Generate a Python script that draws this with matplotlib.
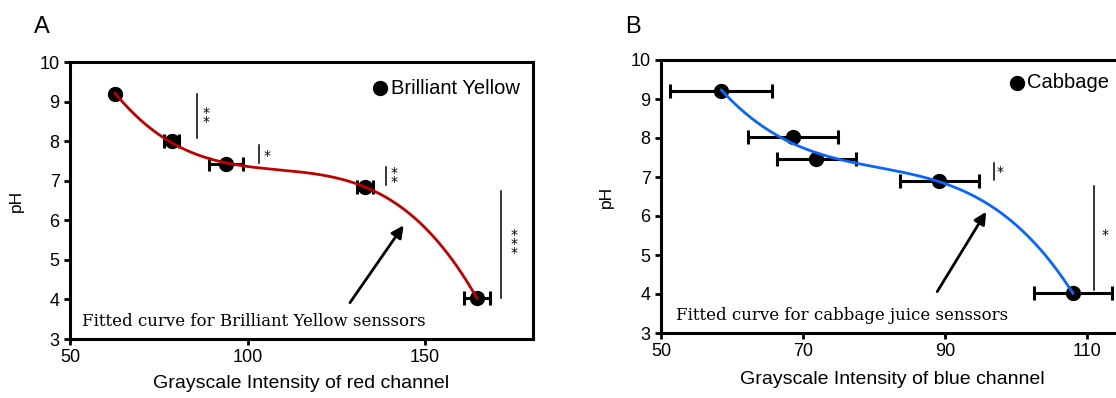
import numpy as np
import matplotlib.pyplot as plt

plt.rcParams['font.family'] = ['Liberation Sans', 'DejaVu Sans']

# panel A - brilliant yellow, red channel
red_x = [62.7, 78.6, 93.9, 133.1, 164.6]
red_err = [0.0, 2.2, 4.8, 2.3, 3.6]
red_ph = [9.2, 8.0, 7.42, 6.85, 4.03]

# panel B - cabbage, blue channel
blue_x = [58.5, 68.6, 71.9, 89.2, 108.0]
blue_err = [7.2, 6.3, 5.6, 5.6, 5.5]
blue_ph = [9.21, 8.02, 7.46, 6.9, 4.02]

fig = plt.figure(figsize=(11.16, 3.98), dpi=100)

def panel(ax, x, xerr, ph, col, deg):
    c = np.polyfit(x, ph, deg)
    xx = np.linspace(min(x), max(x), 300)
    ax.plot(xx, np.polyval(c, xx), color=col, lw=2.0, zorder=3)
    ax.errorbar(x, ph, xerr=xerr, fmt='o', color='black', ms=10,
                elinewidth=2.2, capsize=5, capthick=2.2, zorder=2)
    ax.set_ylim(3, 10)
    ax.set_yticks(range(3, 11))
    for s in ax.spines.values():
        s.set_linewidth(2.2)
    ax.tick_params(direction='out', length=4, width=2, labelsize=13)
    ax.set_ylabel('pH', fontsize=12.5)

def stars(ax, xs, y0, y1, n, tx, ty):
    ax.plot([xs, xs], [y0, y1], color='black', lw=1.1)
    ax.text(tx, ty, '\n'.join(['*'] * n), fontsize=10, family='DejaVu Sans',
            linespacing=0.55, ha='center', va='center')

# A
ax1 = fig.add_axes([70/1116, 59/398, 463/1116, 277/398])
panel(ax1, red_x, red_err, red_ph, '#c00000', 3)
ax1.set_xlim(50, 180.4)
ax1.set_xticks([50, 100, 150])
ax1.set_xlabel('Grayscale Intensity of red channel', fontsize=14, labelpad=6)
ax1.yaxis.set_label_coords(-0.10, 0.5)
ax1.plot([137.3], [9.34], 'o', color='black', ms=10)
ax1.text(140.4, 9.34, 'Brilliant Yellow', fontsize=14.5, va='center')
stars(ax1, 85.7, 9.2, 8.07, 2, 88.3, 8.6)
stars(ax1, 103.2, 7.89, 7.45, 1, 105.4, 7.62)
stars(ax1, 139.0, 7.34, 6.89, 2, 141.3, 7.07)
stars(ax1, 171.5, 6.74, 4.03, 3, 175.2, 5.4)
ax1.annotate('', xy=(144.4, 5.93), xytext=(128.4, 3.86),
             arrowprops=dict(arrowstyle='-|>', color='black', lw=2, mutation_scale=18))
ax1.text(53.5, 3.43, 'Fitted curve for Brilliant Yellow senssors',
         family='DejaVu Serif', fontsize=12, va='center')
fig.text(42/1116, 1 - 27/398, 'A', fontsize=17, ha='center', va='center')

# B
ax2 = fig.add_axes([661/1116, 65/398, 497/1116, 273/398])
panel(ax2, blue_x, blue_err, blue_ph, '#0a64ff', 3)
ax2.set_xlim(50, 120)
ax2.set_xticks([50, 70, 90, 110])
ax2.set_xlabel('Grayscale Intensity of blue channel', fontsize=14, labelpad=6)
ax2.xaxis.set_label_coords(0.465, -0.14)
ax2.yaxis.set_label_coords(-0.095, 0.5)
ax2.plot([100.2], [9.42], 'o', color='black', ms=10)
ax2.text(101.5, 9.42, 'Cabbage', fontsize=14.5, va='center')
stars(ax2, 96.9, 7.36, 6.93, 1, 97.8, 7.12)
stars(ax2, 111.0, 6.77, 4.1, 1, 112.6, 5.5)
ax2.annotate('', xy=(96.0, 6.17), xytext=(88.7, 4.0),
             arrowprops=dict(arrowstyle='-|>', color='black', lw=2, mutation_scale=18))
ax2.text(52.1, 3.45, 'Fitted curve for cabbage juice senssors',
         family='DejaVu Serif', fontsize=12, va='center')
fig.text(633/1116, 1 - 27/398, 'B', fontsize=17, ha='center', va='center')

plt.savefig('out.png', dpi=100)
